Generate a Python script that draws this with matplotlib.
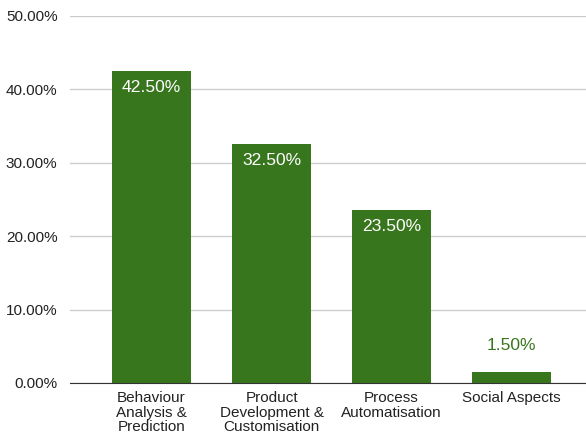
import matplotlib.pyplot as plt
from matplotlib.ticker import FuncFormatter

plt.rcParams['font.family'] = ['Liberation Sans', 'DejaVu Sans']

# Data
categories = ['Behaviour\nAnalysis &\nPrediction', 'Product\nDevelopment &\nCustomisation',
              'Process\nAutomatisation', 'Social Aspects']
values = [42.5, 32.5, 23.5, 1.5]

BAR_COLOR = '#38761d'

fig = plt.figure(figsize=(5.86, 4.38), dpi=100)
ax = fig.add_axes([0.1195, 0.1256, 0.8805, 0.8379])

x = list(range(len(values)))
bars = ax.bar(x, values, width=0.66, color=BAR_COLOR, zorder=3)

ax.set_ylim(0, 50)
ax.set_xlim(-0.68, 3.62)
ax.set_yticks([0, 10, 20, 30, 40, 50])
ax.yaxis.set_major_formatter(FuncFormatter(lambda v, p: f'{v:.2f}%'))
ax.grid(axis='y', color='#cccccc', linewidth=1, zorder=0)
ax.tick_params(axis='y', length=0, pad=9, labelsize=11, labelcolor='#222222')
ax.set_xticks(x)
ax.set_xticklabels(categories, fontsize=11, color='#222222', linespacing=1.05)
ax.tick_params(axis='x', length=0, pad=6)

for side in ['top', 'right', 'left']:
    ax.spines[side].set_visible(False)
ax.spines['bottom'].set_color('#333333')
ax.spines['bottom'].set_zorder(4)

# Value labels: inside for tall bars, above for short ones
for bar, v in zip(bars, values):
    cx = bar.get_x() + bar.get_width() / 2
    if v > 10:
        ax.text(cx, v - 2.2, f'{v:.2f}%', ha='center', va='center',
                color='white', fontsize=12.6, zorder=5)
    else:
        ax.text(cx, v + 3.6, f'{v:.2f}%', ha='center', va='center',
                color=BAR_COLOR, fontsize=12.6, zorder=5)

fig.savefig('out.png', dpi=100)
